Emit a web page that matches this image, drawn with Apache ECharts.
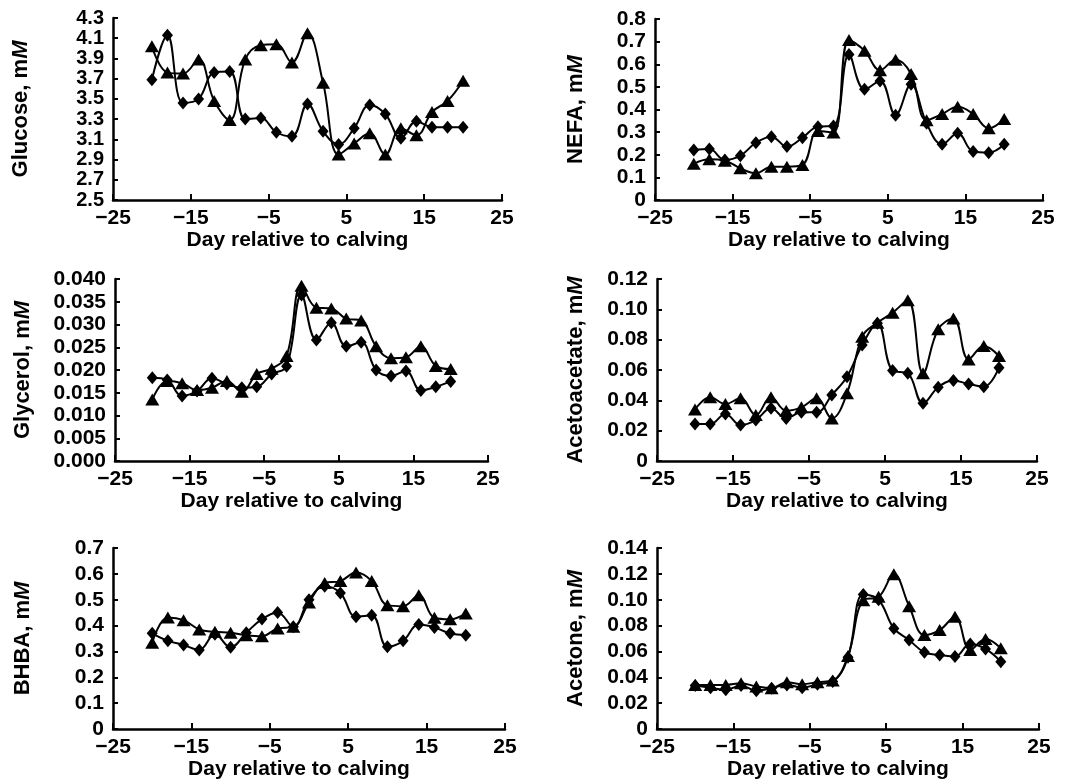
<!DOCTYPE html>
<html>
<head>
<meta charset="utf-8">
<script src="https://cdn.jsdelivr.net/npm/echarts@6/dist/echarts.min.js"></script>
<style>
html,body{margin:0;padding:0;background:#fff;}
#chart{width:1072px;height:784px;}
</style>
</head>
<body>
<div id="chart"></div>
<script>
// Days relative to calving
const days = [-20,-18,-16,-14,-12,-10,-8,-6,-4,-2,0,2,4,6,8,10,12,14,16,18,20];
const dayTicks = [-25,-15,-5,5,15,25];

// Glucose, mM
const glucoseDiamond  = [3.69,4.13,3.46,3.50,3.76,3.77,3.30,3.31,3.17,3.13,3.45,3.18,3.05,3.21,3.44,3.35,3.11,3.28,3.22,3.22,3.22];
const glucoseTriangle = [4.02,3.76,3.75,3.89,3.48,3.29,3.89,4.03,4.04,3.86,4.15,3.66,2.95,3.06,3.16,2.95,3.21,3.14,3.37,3.48,3.68];
const glucoseTicks = [2.5,2.7,2.9,3.1,3.3,3.5,3.7,3.9,4.1,4.3];

// NEFA, mM
const nefaDiamond  = [0.221,0.225,0.177,0.196,0.253,0.280,0.236,0.275,0.324,0.327,0.643,0.489,0.526,0.375,0.512,0.339,0.246,0.295,0.214,0.209,0.246];
const nefaTriangle = [0.160,0.180,0.174,0.140,0.118,0.147,0.147,0.155,0.305,0.298,0.707,0.660,0.574,0.620,0.557,0.353,0.380,0.412,0.380,0.317,0.358];
const nefaTicks = [0,0.1,0.2,0.3,0.4,0.5,0.6,0.7,0.8];

// Glycerol, mM
const glycerolDiamond  = [0.0183,0.0178,0.0143,0.0154,0.0182,0.0169,0.0161,0.0163,0.0191,0.0208,0.0365,0.0266,0.0304,0.0252,0.0261,0.0200,0.0187,0.0198,0.0155,0.0163,0.0175];
const glycerolTriangle = [0.0135,0.0176,0.0171,0.0156,0.0161,0.0176,0.0152,0.0191,0.0203,0.0231,0.0385,0.0337,0.0335,0.0313,0.0309,0.0252,0.0226,0.0228,0.0252,0.0209,0.0202];
const glycerolTicks = [0,0.005,0.010,0.015,0.020,0.025,0.030,0.035,0.040];

// Acetoacetate, mM
const acetoacetateDiamond  = [0.0244,0.0244,0.0310,0.0237,0.0270,0.0347,0.0281,0.0321,0.0321,0.0435,0.0556,0.0765,0.0908,0.0596,0.0578,0.0380,0.0486,0.0530,0.0508,0.0490,0.0615];
const acetoacetateTriangle = [0.0340,0.0420,0.0376,0.0413,0.0303,0.0420,0.0332,0.0354,0.0413,0.0281,0.0446,0.0820,0.0912,0.0978,0.1060,0.0578,0.0868,0.0940,0.0670,0.0758,0.0692];
const acetoacetateTicks = [0,0.02,0.04,0.06,0.08,0.10,0.12];

// BHBA, mM
const bhbaDiamond  = [0.370,0.341,0.325,0.306,0.366,0.316,0.372,0.425,0.451,0.395,0.500,0.552,0.526,0.434,0.440,0.318,0.341,0.404,0.393,0.370,0.363];
const bhbaTriangle = [0.334,0.431,0.421,0.385,0.376,0.372,0.363,0.359,0.389,0.395,0.489,0.565,0.572,0.605,0.572,0.479,0.475,0.517,0.430,0.424,0.447];
const bhbaTicks = [0,0.1,0.2,0.3,0.4,0.5,0.6,0.7];

// Acetone, mM
const acetoneDiamond  = [0.0336,0.0320,0.0303,0.0336,0.0295,0.0316,0.0341,0.0320,0.0347,0.0367,0.0555,0.1040,0.1000,0.0778,0.0688,0.0593,0.0573,0.0560,0.0657,0.0619,0.0521];
const acetoneTriangle = [0.0341,0.0341,0.0341,0.0354,0.0329,0.0316,0.0362,0.0347,0.0362,0.0375,0.0565,0.0996,0.1022,0.1196,0.0950,0.0727,0.0765,0.0868,0.0611,0.0696,0.0624];
const acetoneTicks = [0,0.02,0.04,0.06,0.08,0.10,0.12,0.14];

const FONT = '"Liberation Sans", Arial, Helvetica, sans-serif';

function fmt(dec){
  return function(v){ if (Math.abs(v) < 1e-12 && dec < 3) return '0'; return Number(v).toFixed(dec); };
}
function dayFmt(v){ return v < 0 ? '\u2212' + Math.abs(v) : String(v); }

const panels = [
  {name:'Glucose, m', diamond:glucoseDiamond, triangle:glucoseTriangle, ticks:glucoseTicks, dec:1, fs:20,
   grid:{left:113, top:18, width:389, height:182}, gap:81},
  {name:'NEFA, m', diamond:nefaDiamond, triangle:nefaTriangle, ticks:nefaTicks, dec:1, fs:21,
   grid:{left:655, top:19, width:388, height:181}, gap:68},
  {name:'Glycerol, m', diamond:glycerolDiamond, triangle:glycerolTriangle, ticks:glycerolTicks, dec:3, fs:21,
   grid:{left:115, top:279, width:373, height:182}, gap:81},
  {name:'Acetoacetate, m', diamond:acetoacetateDiamond, triangle:acetoacetateTriangle, ticks:acetoacetateTicks, dec:2, fs:21,
   grid:{left:657, top:279, width:380, height:182}, gap:70},
  {name:'BHBA, m', diamond:bhbaDiamond, triangle:bhbaTriangle, ticks:bhbaTicks, dec:1, fs:21,
   grid:{left:113, top:548, width:392, height:181}, gap:79},
  {name:'Acetone, m', diamond:acetoneDiamond, triangle:acetoneTriangle, ticks:acetoneTicks, dec:2, fs:21,
   grid:{left:657, top:548, width:382, height:181}, gap:70}
];

const axisLine = {show:true, onZero:false, lineStyle:{color:'#000', width:2.5}};
const grids = [], xAxes = [], yAxes = [], series = [];

panels.forEach((p, i) => {
  grids.push(Object.assign({containLabel:false}, p.grid));
  xAxes.push({
    type:'value', gridIndex:i, min:dayTicks[0], max:dayTicks[dayTicks.length-1],
    axisLine:axisLine,
    axisTick:{show:true, inside:true, length:6, lineStyle:{color:'#000', width:2}, customValues:dayTicks},
    axisLabel:{show:true, customValues:dayTicks, formatter:dayFmt, showMinLabel:true, showMaxLabel:true,
      color:'#000', fontFamily:FONT, fontWeight:'bold', fontSize:21, margin:8},
    splitLine:{show:false},
    name:'Day relative to calving', nameLocation:'middle', nameGap:29,
    nameTextStyle:{color:'#000', fontFamily:FONT, fontWeight:'bold', fontSize:21, padding:[0,20,0,0]}
  });
  yAxes.push({
    type:'value', gridIndex:i, min:p.ticks[0], max:p.ticks[p.ticks.length-1],
    axisLine:axisLine,
    axisTick:{show:true, inside:true, length:5, lineStyle:{color:'#000', width:2}, customValues:p.ticks},
    axisLabel:{show:true, customValues:p.ticks, formatter:fmt(p.dec), showMinLabel:true, showMaxLabel:true,
      color:'#000', fontFamily:FONT, fontWeight:'bold', fontSize:p.fs, margin:9},
    splitLine:{show:false},
    name:'{a|' + p.name + '}{b|M}', nameLocation:'middle', nameGap:p.gap, nameRotate:90,
    nameTextStyle:{color:'#000', fontFamily:FONT, fontWeight:'bold', fontSize:22,
      rich:{a:{color:'#000', fontFamily:FONT, fontWeight:'bold', fontSize:22},
            b:{color:'#000', fontFamily:FONT, fontWeight:'bold', fontStyle:'italic', fontSize:22}}}
  });
  series.push({
    type:'line', xAxisIndex:i, yAxisIndex:i, smooth:0.4,
    data: days.map((d, k) => [d, p.diamond[k]]),
    symbol:'diamond', symbolSize:[11,13],
    lineStyle:{color:'#000', width:2}, itemStyle:{color:'#000'}, z:3, animation:false
  });
  series.push({
    type:'line', xAxisIndex:i, yAxisIndex:i, smooth:0.4,
    data: days.map((d, k) => [d, p.triangle[k]]),
    symbol:'triangle', symbolSize:[14,12],
    lineStyle:{color:'#000', width:2}, itemStyle:{color:'#000'}, z:4, animation:false
  });
});

const chart = echarts.init(document.getElementById('chart'), null, {renderer:'canvas'});
chart.setOption({
  backgroundColor:'#fff',
  animation:false,
  grid:grids, xAxis:xAxes, yAxis:yAxes, series:series
});
</script>
</body>
</html>
